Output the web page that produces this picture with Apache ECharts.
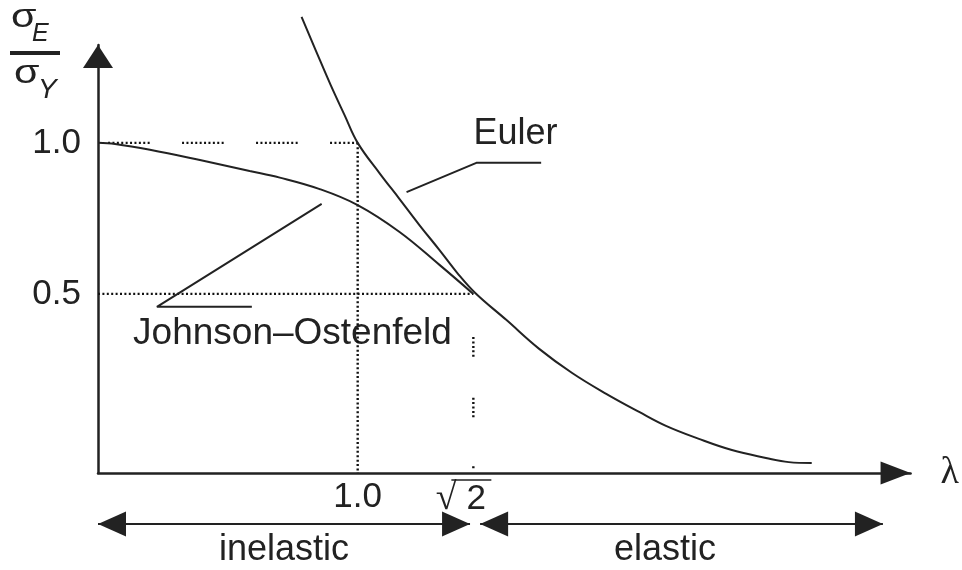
<!DOCTYPE html>
<html><head><meta charset="utf-8">
<script src="https://cdn.jsdelivr.net/npm/echarts@6/dist/echarts.min.js"></script>
<style>html,body{margin:0;padding:0;background:#fff}#c{width:962px;height:570px}</style>
</head><body><div id="c"></div>
<script>
// ---- data ----
const lambdaTicks = [1.0, Math.SQRT2];
const sigmaTicks = [0.5, 1.0];
const joLambda = [0.07, 0.131, 0.256, 0.435, 0.613, 0.721, 0.864, 1.0, 1.150, 1.293, 1.414];
const joSigma  = [1.0, 0.996, 0.977, 0.943, 0.907, 0.885, 0.847, 0.794, 0.705, 0.596, 0.5];
const eulerLambda = [0.799, 0.849, 0.903, 0.953, 1.0, 1.078, 1.150, 1.221, 1.293, 1.357, 1.421, 1.532, 1.650, 1.768, 1.890, 2.008, 2.104, 2.222, 2.340, 2.462, 2.544, 2.626];
const eulerSigma  = [1.417, 1.308, 1.192, 1.092, 1.0, 0.900, 0.814, 0.728, 0.645, 0.569, 0.503, 0.414, 0.318, 0.238, 0.169, 0.109, 0.063, 0.020, -0.017, -0.043, -0.057, -0.060];
const eulerLeaderLambda = [1.175, 1.425, 1.657];
const eulerLeaderSigma  = [0.837, 0.934, 0.934];
const joLeaderLambda = [0.871, 0.281, 0.621];
const joLeaderSigma  = [0.798, 0.457, 0.457];
const inelasticRange = [0.07, 1.40];
const elasticRange   = [1.436, 2.876];
const unityGuideStart = 0.106;
const sqrt2GuideSigma = [0.357, -0.080];
const xMin = 0.07, xMax = 2.98, yMin = -0.093, yMax = 1.324;

// ---- helpers ----
const zip = (a, b) => a.map((v, i) => [v, b[i]]);
function dots(n, d, g) { const a = []; for (let i = 0; i < n; i++) { a.push(d); if (i < n - 1) a.push(g); } return a; }
const INK = '#222';
const DOT = '#111';
const SANS = '"Liberation Sans", Arial, sans-serif';

const groupDash = dots(10, 2, 2.4).concat([32.4]);
const sqrt2Dash = dots(5, 2, 2.4).concat([41]).concat(dots(5, 2, 2.4)).concat([49, 2, 300]);

function guide(data, dash) {
  return { type: 'line', data: data, symbol: 'none', silent: true, animation: false,
    lineStyle: { color: DOT, width: 2.4, type: dash, cap: 'butt' }, z: 1 };
}
function solid(data, opts) {
  return Object.assign({ type: 'line', data: data, symbol: 'none', silent: true, animation: false,
    lineStyle: { color: INK, width: 2 }, z: 3 }, opts || {});
}

const chart = echarts.init(document.getElementById('c'), null, { renderer: 'canvas' });
chart.setOption({
  backgroundColor: '#fff',
  animation: false,
  grid: [
    { left: 98, right: 50, top: 45, bottom: 97 },
    { left: 98, right: 50, top: 514, height: 20 }
  ],
  xAxis: [
    { type: 'value', min: xMin, max: xMax, gridIndex: 0,
      name: 'λ', nameLocation: 'end', nameGap: 30,
      nameTextStyle: { fontFamily: '"Liberation Serif", serif', fontSize: 38, color: INK, padding: [24, 0, 0, 0] },
      axisLine: { show: true, onZero: false, lineStyle: { color: INK, width: 2.5 },
        symbol: ['none', 'triangle'], symbolSize: [23, 30], symbolOffset: [0, -15] },
      axisTick: { show: false }, splitLine: { show: false },
      axisLabel: { customValues: lambdaTicks, margin: 7, color: INK, fontFamily: SANS, fontSize: 35,
        formatter: v => Math.abs(v - 1) < 1e-6 ? '1.0' : '{r|√}{n|2}',
        rich: { r: { fontFamily: '"Liberation Serif", serif', fontSize: 38, color: INK },
                n: { fontFamily: SANS, fontSize: 35, color: INK, padding: [0, 25, 0, 10] } } } },
    { type: 'value', min: xMin, max: xMax, gridIndex: 1, show: false }
  ],
  yAxis: [
    { type: 'value', min: yMin, max: yMax, gridIndex: 0,
      axisLine: { show: true, onZero: false, lineStyle: { color: INK, width: 2.5 },
        symbol: ['none', 'triangle'], symbolSize: [30, 23], symbolOffset: [0, -11.5] },
      axisTick: { show: false }, splitLine: { show: false },
      axisLabel: { customValues: sigmaTicks, margin: 17, color: INK, fontFamily: SANS, fontSize: 35,
        formatter: v => v.toFixed(1) } },
    { type: 'value', min: 0, max: 1, gridIndex: 1, show: false }
  ],
  series: [
    guide([[unityGuideStart, 1.0], [1.0, 1.0]], groupDash),
    guide([[1.0, 1.0], [1.0, yMin]], [2, 2.4]),
    guide([[xMin, 0.5], [Math.SQRT2, 0.5]], [2, 2.4]),
    guide([[Math.SQRT2, sqrt2GuideSigma[0]], [Math.SQRT2, sqrt2GuideSigma[1]]], sqrt2Dash),
    solid(zip(joLambda, joSigma), { smooth: 0.4 }),
    solid(zip(eulerLambda, eulerSigma), { smooth: 0.4, clip: false }),
    solid(zip(eulerLeaderLambda, eulerLeaderSigma)),
    solid(zip(joLeaderLambda, joLeaderSigma)),
    { type: 'line', xAxisIndex: 1, yAxisIndex: 1, data: [], silent: true, animation: false,
      markLine: { silent: true, animation: false,
        symbol: ['triangle', 'triangle'], symbolSize: [25, 28], symbolOffset: [[0, 14], [0, 14]],
        itemStyle: { color: INK },
        lineStyle: { color: INK, width: 2, type: 'solid' },
        label: { show: false },
        data: [
          [{ coord: [inelasticRange[0], 0.5] }, { coord: [inelasticRange[1], 0.5] }],
          [{ coord: [elasticRange[0], 0.5] }, { coord: [elasticRange[1], 0.5] }]
        ] } }
  ],
  graphic: [
    { id: 'sE', type: 'text', x: 11, y: 17.5, scaleX: 1.25, style: { text: 'σ', font: '33px ' + SANS, fill: INK, verticalAlign: 'middle', align: 'left' } },
    { id: 'E', type: 'text', x: 32, y: 34.3, style: { text: 'E', font: 'italic 25px ' + SANS, fill: INK, verticalAlign: 'middle', align: 'left' } },
    { id: 'bar', type: 'rect', shape: { x: 10, y: 51, width: 50, height: 4 }, style: { fill: INK } },
    { id: 'sY', type: 'text', x: 14, y: 73.5, scaleX: 1.25, style: { text: 'σ', font: '33px ' + SANS, fill: INK, verticalAlign: 'middle', align: 'left' } },
    { id: 'Y', type: 'text', x: 38, y: 90.2, style: { text: 'Y', font: 'italic 28px ' + SANS, fill: INK, verticalAlign: 'middle', align: 'left' } },
    { id: 'eu', type: 'text', x: 515.5, y: 134.4, style: { text: 'Euler', font: '36px ' + SANS, fill: INK, verticalAlign: 'middle', align: 'center' } },
    { id: 'jo', type: 'text', x: 292.5, y: 334, style: { text: 'Johnson–Ostenfeld', font: '37px ' + SANS, fill: INK, verticalAlign: 'middle', align: 'center' } },
    { id: 'in', type: 'text', x: 284, y: 550.4, style: { text: 'inelastic', font: '36px ' + SANS, fill: INK, verticalAlign: 'middle', align: 'center' } },
    { id: 'el', type: 'text', x: 665, y: 550.4, style: { text: 'elastic', font: '36px ' + SANS, fill: INK, verticalAlign: 'middle', align: 'center' } }
  ]
});
// vinculum of the √2 tick label, placed from the axis scale
const tickX = chart.convertToPixel({ xAxisIndex: 0 }, Math.SQRT2);
chart.setOption({ graphic: [
  { id: 'vinculum', type: 'line', shape: { x1: tickX - 22, y1: 480, x2: tickX + 18, y2: 480 }, style: { stroke: INK, lineWidth: 1.5 } }
] });
</script>
</body></html>
